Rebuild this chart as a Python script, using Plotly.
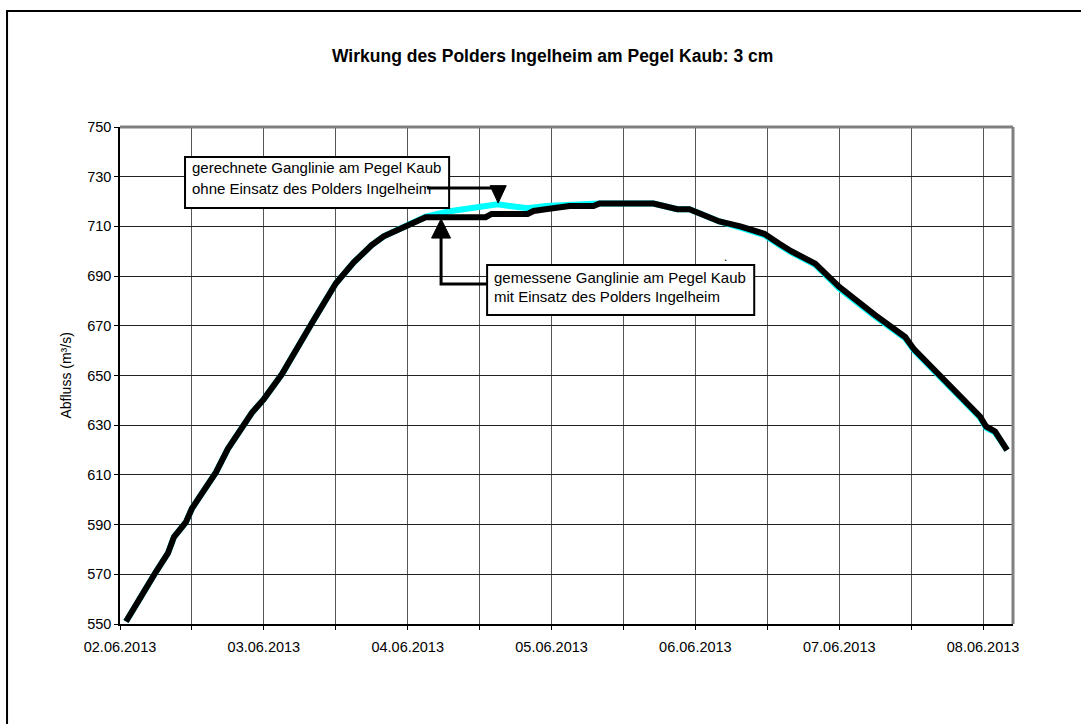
import pandas as pd
import plotly.graph_objects as go

# ---------------- data ----------------
start = "2013-06-02 00:00"

zeit_gemessen = [
    "2013-06-02 01:00", "2013-06-02 02:00", "2013-06-02 03:00", "2013-06-02 06:00",
    "2013-06-02 08:00", "2013-06-02 09:00", "2013-06-02 11:00", "2013-06-02 12:00",
    "2013-06-02 16:00", "2013-06-02 18:00", "2013-06-02 21:00", "2013-06-02 22:00",
    "2013-06-03 00:00", "2013-06-03 03:00", "2013-06-03 08:00", "2013-06-03 12:00",
    "2013-06-03 15:00", "2013-06-03 18:00", "2013-06-03 20:00", "2013-06-03 23:00",
    "2013-06-04 00:00", "2013-06-04 03:00", "2013-06-04 13:00", "2013-06-04 14:00",
    "2013-06-04 20:00", "2013-06-04 21:00", "2013-06-04 23:00", "2013-06-05 03:00",
    "2013-06-05 07:00", "2013-06-05 08:00", "2013-06-05 17:00", "2013-06-05 19:00",
    "2013-06-05 21:00", "2013-06-05 23:00", "2013-06-06 01:00", "2013-06-06 03:00",
    "2013-06-06 04:00", "2013-06-06 07:30", "2013-06-06 11:30", "2013-06-06 14:00",
    "2013-06-06 16:00", "2013-06-06 20:00", "2013-06-07 00:00", "2013-06-07 06:00",
    "2013-06-07 11:00", "2013-06-07 12:30", "2013-06-07 17:00", "2013-06-07 20:00",
    "2013-06-07 23:30", "2013-06-08 00:30", "2013-06-08 02:00", "2013-06-08 04:00",
]
abfluss_gemessen = [
    551, 554.5, 559, 571,
    578.5, 585, 591, 596.5,
    611, 620.5, 631.5, 635,
    640.5, 650.5, 671, 687,
    695.5, 702.5, 706, 709.5,
    710.6, 713.7, 713.7, 715,
    715, 716.2, 716.9, 718.2,
    718.2, 719.2, 719.2, 717.9,
    716.9, 716.9, 715, 713.5,
    712, 710, 707, 703,
    700, 695, 685.7, 674.3,
    665.5, 660.5, 649.5, 641.5,
    633.5, 629.5, 627.5, 620,
]

zeit_gerechnet = [
    "2013-06-02 01:00", "2013-06-02 02:00", "2013-06-02 03:00", "2013-06-02 06:00",
    "2013-06-02 08:00", "2013-06-02 09:00", "2013-06-02 11:00", "2013-06-02 12:00",
    "2013-06-02 16:00", "2013-06-02 18:00", "2013-06-02 21:00", "2013-06-02 22:00",
    "2013-06-03 00:00", "2013-06-03 03:00", "2013-06-03 08:00", "2013-06-03 12:00",
    "2013-06-03 15:00", "2013-06-03 18:00", "2013-06-03 20:00", "2013-06-03 23:00",
    "2013-06-04 00:00", "2013-06-04 03:00", "2013-06-04 07:00", "2013-06-04 11:00",
    "2013-06-04 13:00", "2013-06-04 15:00", "2013-06-04 17:00", "2013-06-04 20:00",
    "2013-06-04 23:00", "2013-06-05 03:00", "2013-06-05 08:00", "2013-06-05 17:00",
    "2013-06-05 19:00", "2013-06-05 21:00", "2013-06-05 23:00", "2013-06-06 01:00",
    "2013-06-06 03:00", "2013-06-06 04:00", "2013-06-06 07:30", "2013-06-06 11:30",
    "2013-06-06 14:00", "2013-06-06 16:00", "2013-06-06 20:00", "2013-06-07 00:00",
    "2013-06-07 06:00", "2013-06-07 11:00", "2013-06-07 12:30", "2013-06-07 17:00",
    "2013-06-07 20:00", "2013-06-07 23:30", "2013-06-08 00:30", "2013-06-08 02:00",
    "2013-06-08 04:00",
]
abfluss_gerechnet = [
    551, 554.5, 559, 571,
    578.5, 585, 591, 596.5,
    611, 620.5, 631.5, 635,
    640.5, 650.5, 671, 687,
    695.5, 702.5, 706, 709.5,
    710.6, 713.9, 716.1, 717.3,
    717.9, 718.9, 718.2, 717.3,
    718.2, 718.6, 719.2, 719.2,
    717.9, 716.9, 716.9, 715,
    713.5, 712, 709.5, 706.5,
    702.5, 699.5, 694.5, 685,
    673.7, 665, 660, 649,
    641, 633, 629, 627,
    620,
]

tick_tage = [0, 0.5, 1, 1.5, 2, 2.5, 3, 3.5, 4, 4.5, 5, 5.5, 6]
tick_texte = ["02.06.2013", "", "03.06.2013", "", "04.06.2013", "", "05.06.2013", "",
              "06.06.2013", "", "07.06.2013", "", "08.06.2013"]

titel = "Wirkung des Polders Ingelheim am Pegel Kaub: 3 cm"
y_titel = "Abfluss (m³/s)"
text_gerechnet = ["gerechnete Ganglinie am Pegel Kaub", "ohne Einsatz des Polders Ingelheim"]
text_gemessen = ["gemessene Ganglinie am Pegel Kaub", "mit Einsatz des Polders Ingelheim"]

# ---------------- helpers ----------------
t0 = pd.Timestamp(start)


def tage(ts):
    return [(pd.Timestamp(s) - t0).total_seconds() / 86400.0 for s in ts]


FONT = "Liberation Sans, Arial, sans-serif"

fig = go.Figure()
fig.add_trace(go.Scatter(x=tage(zeit_gerechnet), y=abfluss_gerechnet, mode="lines",
                         line=dict(color="#00FFFF", width=6), showlegend=False,
                         hoverinfo="skip"))
fig.add_trace(go.Scatter(x=tage(zeit_gemessen), y=abfluss_gemessen, mode="lines",
                         line=dict(color="#000000", width=6), showlegend=False))

shapes = []
# plot area top/right border (gray)
shapes.append(dict(type="line", xref="paper", yref="paper", x0=0, x1=1, y0=1, y1=1,
                   line=dict(color="#808080", width=3), layer="above"))
shapes.append(dict(type="line", xref="paper", yref="paper", x0=1, x1=1, y0=0, y1=1,
                   line=dict(color="#808080", width=3), layer="above"))
# outer chart border
shapes.append(dict(type="rect", xref="paper", yref="paper", x0=-0.1265, x1=1.3,
                   y0=-0.6, y1=1.2334, line=dict(color="#000000", width=2), layer="above"))

# annotation boxes (data coordinates)
box1 = dict(x0=0.452, x1=2.288, y0=717.4, y1=737.9)
box2 = dict(x0=2.552, x1=4.409, y0=674.3, y1=694.5)
for b in (box1, box2):
    shapes.append(dict(type="rect", xref="x", yref="y", **b, fillcolor="white",
                       line=dict(color="black", width=2), layer="above"))

# arrow 1 (to computed curve)
shapes.append(dict(type="line", xref="x", yref="y", x0=2.135, x1=2.629, y0=725.5, y1=725.5,
                   line=dict(color="black", width=3), layer="above"))
shapes.append(dict(type="path", xref="x", yref="y",
                   path="M 2.573 726.4 L 2.685 726.4 L 2.629 719.4 Z",
                   fillcolor="black", line=dict(color="black", width=1), layer="above"))
# arrow 2 (to measured curve)
shapes.append(dict(type="path", xref="x", yref="y",
                   path="M 2.552 686.8 L 2.232 686.8 L 2.232 705.5",
                   line=dict(color="black", width=3), layer="above"))
shapes.append(dict(type="path", xref="x", yref="y",
                   path="M 2.166 705.3 L 2.298 705.3 L 2.232 713.0 Z",
                   fillcolor="black", line=dict(color="black", width=1), layer="above"))

annotations = []
annotations.append(dict(text="<b>" + titel + "</b>", xref="paper", yref="paper",
                        x=(552 - 120) / 893, y=1.1429, xanchor="center", yanchor="middle",
                        showarrow=False, font=dict(family=FONT, size=17.5, color="black")))
annotations.append(dict(text=y_titel, xref="paper", yref="paper", x=(65 - 120) / 893, y=0.5,
                        xanchor="center", yanchor="middle", textangle=-90,
                        showarrow=False, font=dict(family=FONT, size=14, color="black")))
for txt, yv in zip(text_gerechnet, [733.9, 725.1]):
    annotations.append(dict(text=txt, xref="x", yref="y", x=0.487, y=yv, xanchor="left",
                            yanchor="middle", showarrow=False,
                            font=dict(family=FONT, size=15, color="black")))
for txt, yv in zip(text_gemessen, [689.6, 681.6]):
    annotations.append(dict(text=txt, xref="x", yref="y", x=2.587, y=yv, xanchor="left",
                            yanchor="middle", showarrow=False,
                            font=dict(family=FONT, size=15, color="black")))
annotations.append(dict(text=".", xref="x", yref="y", x=4.207, y=697.5, showarrow=False,
                        font=dict(family=FONT, size=12, color="black")))

fig.update_layout(
    width=1081, height=724,
    margin=dict(l=120, r=68, t=127, b=100, pad=0),
    paper_bgcolor="white", plot_bgcolor="white",
    shapes=shapes, annotations=annotations,
    showlegend=False,
    xaxis=dict(range=[0, 6.208], tickmode="array", tickvals=tick_tage, ticktext=tick_texte,
               showgrid=True, gridcolor="#555555", gridwidth=1, zeroline=False,
               ticks="outside", ticklen=4, tickcolor="black", tickwidth=1,
               ticklabelstandoff=5,
               showline=True, linecolor="black", linewidth=1.5,
               tickfont=dict(family=FONT, size=14.5, color="black")),
    yaxis=dict(range=[550, 750], tick0=550, dtick=20,
               showgrid=True, gridcolor="#222222", gridwidth=1, zeroline=False,
               ticks="outside", ticklen=4, tickcolor="black", tickwidth=1,
               showline=True, linecolor="black", linewidth=1.5,
               tickfont=dict(family=FONT, size=14.5, color="black")),
)

fig.write_html("out.html", config={"displayModeBar": False},
               post_script="document.body.style.margin='0';document.body.style.padding='0';")
